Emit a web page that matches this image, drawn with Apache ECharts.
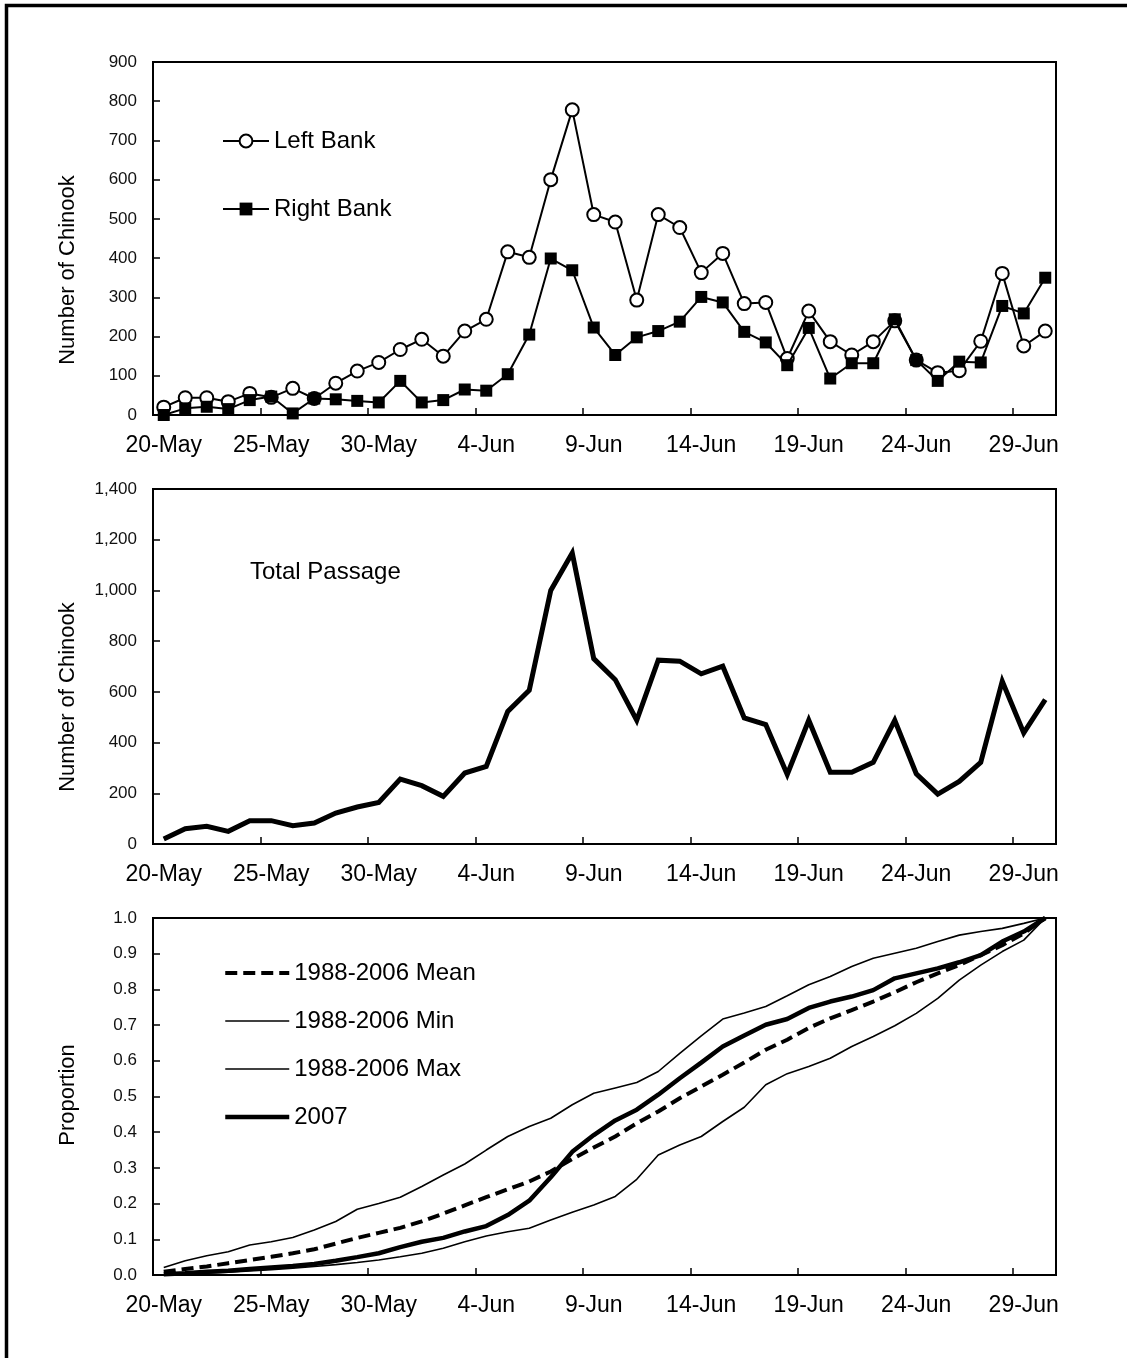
<!DOCTYPE html>
<html>
<head>
<meta charset="utf-8">
<title>Chinook passage, 2007</title>
<script src="https://cdn.jsdelivr.net/npm/echarts@6/dist/echarts.min.js"></script>
<style>
  html, body { margin: 0; padding: 0; background: #fff; }
  #chart { width: 1127px; height: 1358px; }
</style>
</head>
<body>
<div id="chart"></div>
<script>
// Daily counts, 20 May - 30 June
const dates = [
  '20-May','21-May','22-May','23-May','24-May','25-May','26-May','27-May','28-May','29-May','30-May','31-May',
  '1-Jun','2-Jun','3-Jun','4-Jun','5-Jun','6-Jun','7-Jun','8-Jun','9-Jun','10-Jun',
  '11-Jun','12-Jun','13-Jun','14-Jun','15-Jun','16-Jun','17-Jun','18-Jun','19-Jun','20-Jun',
  '21-Jun','22-Jun','23-Jun','24-Jun','25-Jun','26-Jun','27-Jun','28-Jun','29-Jun','30-Jun'
];

const leftBank = [
  20, 44, 44, 34, 55, 45, 68, 42, 81, 112, 134, 167,
  193, 150, 214, 244, 416, 402, 600, 778, 511, 492,
  293, 511, 478, 363, 412, 284, 287, 144, 265, 187,
  153, 187, 240, 140, 108, 113, 188, 361, 176, 214
];

const rightBank = [
  0, 17, 21, 15, 38, 47, 4, 42, 40, 36, 32, 87,
  32, 38, 65, 62, 104, 205, 399, 369, 223, 153,
  198, 214, 238, 301, 287, 212, 185, 127, 222, 93,
  132, 132, 244, 140, 87, 136, 134, 278, 259, 350
];

const totalPassage = [
  20, 60, 70, 50, 92, 92, 72, 83, 122, 146, 164, 256,
  230, 188, 280, 306, 523, 606, 1000, 1148, 731, 648,
  488, 725, 721, 671, 701, 497, 471, 274, 488, 283,
  283, 322, 488, 277, 197, 247, 322, 642, 438, 569
];

// Cumulative proportion of the run
const meanProp = [
  0.009, 0.017, 0.024, 0.033, 0.042, 0.051, 0.061, 0.072, 0.088, 0.104, 0.118, 0.132,
  0.150, 0.172, 0.195, 0.218, 0.240, 0.262, 0.290, 0.325, 0.357, 0.388,
  0.425, 0.458, 0.495, 0.528, 0.561, 0.595, 0.631, 0.659, 0.692, 0.719,
  0.742, 0.766, 0.792, 0.820, 0.845, 0.868, 0.896, 0.924, 0.957, 1.000
];

const minProp = [
  0.000, 0.002, 0.005, 0.008, 0.011, 0.015, 0.019, 0.024, 0.029, 0.035, 0.042, 0.051,
  0.061, 0.075, 0.093, 0.109, 0.121, 0.131, 0.154, 0.176, 0.196, 0.220,
  0.268, 0.336, 0.364, 0.388, 0.430, 0.470, 0.533, 0.564, 0.584, 0.607,
  0.640, 0.668, 0.698, 0.733, 0.775, 0.826, 0.868, 0.906, 0.938, 1.000
];

const maxProp = [
  0.021, 0.040, 0.054, 0.065, 0.084, 0.093, 0.105, 0.126, 0.150, 0.184, 0.200, 0.218,
  0.248, 0.280, 0.311, 0.350, 0.388, 0.416, 0.439, 0.477, 0.509, 0.524,
  0.539, 0.570, 0.621, 0.670, 0.717, 0.734, 0.752, 0.782, 0.813, 0.836,
  0.864, 0.887, 0.901, 0.915, 0.934, 0.952, 0.962, 0.971, 0.985, 1.000
];

const prop2007 = [
  0.002, 0.005, 0.009, 0.012, 0.017, 0.021, 0.025, 0.031, 0.040, 0.050, 0.061, 0.078,
  0.093, 0.104, 0.122, 0.137, 0.168, 0.208, 0.274, 0.345, 0.392, 0.433,
  0.463, 0.505, 0.551, 0.595, 0.640, 0.671, 0.701, 0.717, 0.748, 0.766,
  0.780, 0.798, 0.831, 0.845, 0.859, 0.876, 0.896, 0.934, 0.962, 1.000
];

const FONT = '"Liberation Sans", Arial, Helvetica, sans-serif';
const INK = '#000';

// Line styles shared by the proportion series and their legend entries
const MEAN_LINE = { color: INK, width: 4, type: [12, 6] };
const RANGE_LINE = { color: INK, width: 1.6 };
const YEAR_LINE = { color: INK, width: 4.5 };

const chart = echarts.init(document.getElementById('chart'), null, { renderer: 'canvas' });

function grid(top, height) {
  return {
    left: 153, top: top, width: 903, height: height,
    show: true, borderColor: INK, borderWidth: 2, backgroundColor: 'transparent'
  };
}

function dayAxis(idx) {
  return {
    type: 'category', gridIndex: idx, data: dates, boundaryGap: true,
    axisLine: { show: true, lineStyle: { color: INK, width: 2 } },
    axisTick: { show: true, inside: true, length: 7, interval: 4, lineStyle: { color: INK, width: 1.5 } },
    axisLabel: { interval: 4, margin: 19, fontSize: 23, color: INK, fontFamily: FONT },
    splitLine: { show: false }
  };
}

function valueAxis(idx, max, step, fmt) {
  return {
    type: 'value', gridIndex: idx, min: 0, max: max, interval: step,
    axisLine: { show: true, lineStyle: { color: INK, width: 2 } },
    axisTick: { show: true, inside: true, length: 7, lineStyle: { color: INK, width: 1.5 } },
    axisLabel: { margin: 16, fontSize: 17, color: '#111', fontFamily: FONT, formatter: fmt },
    splitLine: { show: false }
  };
}

const legendText = { fontSize: 24, lineHeight: 24, color: INK, fontFamily: FONT };

// Legend entry drawn as a plain line sample (no marker)
function lineOnly(name, style) {
  return {
    name: name,
    itemStyle: { opacity: 0 },
    lineStyle: { width: style.width, type: style.type || 'solid', color: INK, opacity: 1 }
  };
}

function axisTitle(text, x, y) {
  return {
    type: 'text', x: x, y: y, rotation: Math.PI / 2,
    style: { text: text, font: '22px ' + FONT, fill: INK, align: 'center', verticalAlign: 'middle' }
  };
}

const option = {
  animation: false,
  backgroundColor: '#fff',
  grid: [grid(62, 353), grid(489, 355), grid(918, 357)],
  xAxis: [dayAxis(0), dayAxis(1), dayAxis(2)],
  yAxis: [
    valueAxis(0, 900, 100, v => String(v)),
    valueAxis(1, 1400, 200, v => v.toLocaleString('en-US')),
    valueAxis(2, 1, 0.1, v => v.toFixed(1))
  ],
  legend: [
    {
      data: ['Left Bank', 'Right Bank'], orient: 'vertical', left: 217, top: 124,
      itemWidth: 46, itemHeight: 16, itemGap: 44, selectedMode: false, textStyle: legendText,
      lineStyle: { width: 2 }
    },
    {
      data: [
        lineOnly('1988-2006 Mean', MEAN_LINE),
        lineOnly('1988-2006 Min', RANGE_LINE),
        lineOnly('1988-2006 Max', RANGE_LINE),
        lineOnly('2007', YEAR_LINE)
      ],
      orient: 'vertical', left: 218, top: 956,
      itemWidth: 64, itemHeight: 16, itemGap: 24, selectedMode: false, textStyle: legendText
    }
  ],
  series: [
    {
      name: 'Left Bank', type: 'line', xAxisIndex: 0, yAxisIndex: 0, data: leftBank,
      symbol: 'circle', symbolSize: 13, z: 2,
      lineStyle: { color: INK, width: 2 },
      itemStyle: { color: '#fff', borderColor: INK, borderWidth: 2 }
    },
    {
      name: 'Right Bank', type: 'line', xAxisIndex: 0, yAxisIndex: 0, data: rightBank,
      symbol: 'rect', symbolSize: 12, z: 3,
      lineStyle: { color: INK, width: 2 },
      itemStyle: { color: INK }
    },
    {
      name: 'Total Passage', type: 'line', xAxisIndex: 1, yAxisIndex: 1, data: totalPassage,
      symbol: 'none', lineStyle: { color: INK, width: 5, join: 'miter' }, itemStyle: { color: INK }
    },
    {
      name: '1988-2006 Mean', type: 'line', xAxisIndex: 2, yAxisIndex: 2, data: meanProp,
      symbol: 'none', lineStyle: MEAN_LINE, itemStyle: { color: INK }
    },
    {
      name: '1988-2006 Min', type: 'line', xAxisIndex: 2, yAxisIndex: 2, data: minProp,
      symbol: 'none', lineStyle: RANGE_LINE, itemStyle: { color: INK }
    },
    {
      name: '1988-2006 Max', type: 'line', xAxisIndex: 2, yAxisIndex: 2, data: maxProp,
      symbol: 'none', lineStyle: RANGE_LINE, itemStyle: { color: INK }
    },
    {
      name: '2007', type: 'line', xAxisIndex: 2, yAxisIndex: 2, data: prop2007,
      symbol: 'none', lineStyle: YEAR_LINE, itemStyle: { color: INK }
    }
  ],
  graphic: [
    {
      type: 'rect', silent: true,
      shape: { x: 6.5, y: 5.5, width: 1400, height: 1600 },
      style: { fill: 'none', stroke: INK, lineWidth: 3.5 }
    },
    {
      type: 'text', x: 250, y: 572,
      style: { text: 'Total Passage', font: '24px ' + FONT, fill: INK, align: 'left', verticalAlign: 'middle' }
    },
    axisTitle('Number of Chinook', 68, 270),
    axisTitle('Number of Chinook', 68, 697),
    axisTitle('Proportion', 68, 1095)
  ]
};

chart.setOption(option);
</script>
</body>
</html>
